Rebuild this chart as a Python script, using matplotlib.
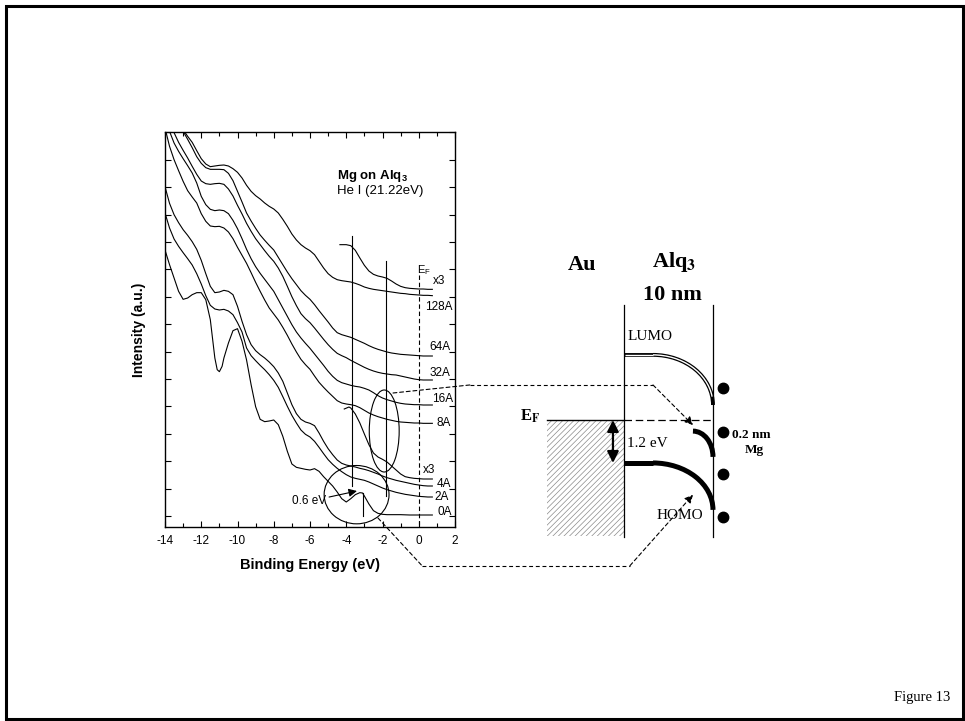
import matplotlib
matplotlib.use('Agg')
import numpy as np
import matplotlib.pyplot as plt
from matplotlib.patches import Ellipse, Rectangle, Arc, ConnectionPatch

plt.rcParams['mathtext.fontset'] = 'custom'
plt.rcParams['mathtext.rm'] = 'Liberation Sans'
plt.rcParams['mathtext.bf'] = 'Liberation Sans:bold'
plt.rcParams['mathtext.it'] = 'Liberation Sans:italic'
plt.rcParams['hatch.linewidth'] = 0.5
plt.rcParams['axes.unicode_minus'] = False

# UPS spectra, Mg on Alq3: binding energy grid (eV) and intensities (a.u.)
energy = [-14.0, -13.75, -13.5, -13.25, -13.0, -12.75, -12.5, -12.25, -12.0, -11.75, -11.5, -11.25,
          -11.0, -10.75, -10.5, -10.25, -10.0, -9.75, -9.5, -9.25, -9.0, -8.75, -8.5, -8.25,
          -8.0, -7.75, -7.5, -7.25, -7.0, -6.75, -6.5, -6.25, -6.0, -5.75, -5.5, -5.25,
          -5.0, -4.75, -4.5, -4.25, -4.0, -3.75, -3.5, -3.25, -3.0, -2.75, -2.5, -2.25,
          -2.0, -1.75, -1.5, -1.25, -1.0, -0.75, -0.5, -0.25, 0.0, 0.25, 0.5, 0.75]

i_128 = [12.30, 11.95, 11.75, 11.57, 11.32, 11.08, 10.92, 10.84, 10.86, 10.88, 10.89, 10.86, 10.78,
         10.67, 10.50, 10.28, 10.10, 9.97, 9.87, 9.75, 9.65, 9.57, 9.45, 9.26, 9.05, 8.82, 8.64,
         8.50, 8.40, 8.32, 8.20, 8.00, 7.80, 7.63, 7.52, 7.45, 7.42, 7.40, 7.38, 7.34, 7.29, 7.23,
         7.19, 7.16, 7.14, 7.12, 7.10, 7.08, 7.06, 7.04, 7.03, 7.01, 7.00, 6.99, 6.98, 6.98, 6.97]
i_64 = [12.15, 11.90, 11.66, 11.41, 11.14, 10.94, 10.81, 10.76, 10.76, 10.76, 10.75, 10.64, 10.42,
        10.10, 9.78, 9.45, 9.21, 8.99, 8.79, 8.63, 8.48, 8.34, 8.12, 7.90, 7.68, 7.48, 7.30, 7.12,
        6.98, 6.86, 6.70, 6.52, 6.35, 6.18, 6.00, 5.86, 5.80, 5.76, 5.72, 5.66, 5.60, 5.54, 5.47,
        5.41, 5.36, 5.32, 5.28, 5.25, 5.23, 5.21, 5.20, 5.19, 5.18, 5.17, 5.16, 5.16, 5.16]
i_32 = [12.20, 11.86, 11.57, 11.33, 11.10, 10.85, 10.61, 10.41, 10.33, 10.31, 10.33, 10.34, 10.31,
        10.17, 9.96, 9.68, 9.42, 9.14, 8.90, 8.68, 8.50, 8.32, 8.15, 8.00, 7.80, 7.55, 7.25, 6.94,
        6.67, 6.43, 6.28, 6.16, 6.00, 5.83, 5.66, 5.50, 5.36, 5.24, 5.17, 5.11, 5.03, 4.96, 4.89,
        4.82, 4.76, 4.71, 4.67, 4.64, 4.62, 4.60, 4.59, 4.56, 4.53, 4.50, 4.47, 4.45, 4.44, 4.44, 4.44]
i_16 = [12.20, 11.90, 11.55, 11.30, 11.08, 10.87, 10.65, 10.35, 9.95, 9.70, 9.56, 9.52, 9.54,
        9.52, 9.43, 9.23, 8.98, 8.68, 8.36, 8.08, 7.84, 7.64, 7.46, 7.28, 7.10, 6.85, 6.60, 6.35,
        6.10, 5.88, 5.70, 5.54, 5.39, 5.22, 5.05, 4.88, 4.70, 4.55, 4.43, 4.36, 4.32, 4.28, 4.25,
        4.23, 4.19, 4.14, 4.06, 3.97, 3.90, 3.85, 3.81, 3.77, 3.74, 3.72, 3.71, 3.70, 3.70, 3.69,
        3.69, 3.69]
i_8 = [12.00, 11.45, 11.05, 10.72, 10.40, 10.12, 9.93, 9.75, 9.43, 9.20, 9.06, 9.04, 9.05,
       9.00, 8.88, 8.68, 8.42, 8.18, 7.94, 7.66, 7.37, 7.10, 6.84, 6.60, 6.42, 6.24, 6.02, 5.78,
       5.52, 5.28, 5.06, 4.90, 4.76, 4.56, 4.37, 4.22, 4.08, 3.95, 3.82, 3.75, 3.72, 3.70, 3.67,
       3.61, 3.53, 3.45, 3.39, 3.34, 3.30, 3.26, 3.23, 3.20, 3.18, 3.17, 3.16, 3.15, 3.15, 3.14,
       3.14, 3.14]
i_4 = [10.24, 9.74, 9.40, 9.16, 8.95, 8.78, 8.59, 8.36, 8.03, 7.63, 7.25, 7.06, 7.08,
       7.13, 7.10, 7.00, 6.65, 6.20, 5.80, 5.50, 5.32, 5.20, 5.10, 4.98, 4.84, 4.65, 4.40, 4.05,
       3.70, 3.43, 3.26, 3.18, 3.14, 3.07, 2.85, 2.60, 2.38, 2.20, 2.04, 1.94, 1.89, 1.86, 1.83,
       1.79, 1.76, 1.72, 1.67, 1.62, 1.56, 1.51, 1.47, 1.43, 1.40, 1.37, 1.34, 1.31, 1.29, 1.27,
       1.26, 1.26]
i_2 = [9.45, 9.00, 8.67, 8.45, 8.26, 8.08, 7.89, 7.63, 7.32, 6.97, 6.68, 6.57, 6.54,
       6.56, 6.51, 6.40, 6.16, 5.88, 5.40, 5.17, 5.02, 4.88, 4.75, 4.60, 4.43, 4.22, 3.94, 3.65,
       3.38, 3.15, 2.94, 2.81, 2.73, 2.60, 2.42, 2.23, 2.05, 1.91, 1.79, 1.69, 1.60, 1.53, 1.49,
       1.46, 1.43, 1.38, 1.32, 1.26, 1.20, 1.15, 1.11, 1.07, 1.04, 1.01, 0.99, 0.97, 0.95, 0.94,
       0.93, 0.93]

e_0 = [-14.0, -13.75, -13.5, -13.25, -13.0, -12.75, -12.5, -12.25, -12.0, -11.75, -11.5, -11.25,
       -11.12, -11.0, -10.85, -10.75, -10.5, -10.25, -10.0, -9.75, -9.5, -9.25, -9.0, -8.75,
       -8.5, -8.25, -8.0, -7.75, -7.5, -7.25, -7.0, -6.75, -6.5, -6.25, -6.0, -5.75, -5.5,
       -5.25, -5.0, -4.75, -4.5, -4.25, -4.0, -3.75, -3.5, -3.25, -3.1, -3.0, -2.75, -2.5,
       -2.25, -2.0, -1.75, -1.5, -1.0, -0.5, 0.0, 0.5, 0.75]
i_0 = [8.34, 7.90, 7.50, 7.10, 6.86, 6.90, 7.00, 7.06, 7.06, 6.85, 6.25, 5.10, 4.75, 4.69, 4.85,
       5.10, 5.55, 5.92, 5.98, 5.60, 5.04, 4.30, 3.64, 3.26, 3.19, 3.21, 3.24, 3.10, 2.75, 2.30,
       1.92, 1.82, 1.79, 1.76, 1.74, 1.78, 1.70, 1.54, 1.40, 1.26, 1.08, 0.88, 0.78, 0.88, 1.00,
       1.06, 1.05, 0.96, 0.72, 0.52, 0.44, 0.41, 0.40, 0.40, 0.40, 0.39, 0.39, 0.39, 0.39]

# x3 magnified traces near E_F
e_128x3 = [-4.35, -4.25, -4.0, -3.75, -3.5, -3.25, -3.0, -2.75, -2.5, -2.25, -2.0, -1.75, -1.5,
           -1.25, -1.0, -0.75, -0.5, -0.25, 0.0, 0.25, 0.5, 0.75]
i_128x3 = [8.50, 8.50, 8.50, 8.47, 8.33, 8.10, 7.88, 7.71, 7.61, 7.56, 7.53, 7.49, 7.41, 7.32,
           7.25, 7.21, 7.19, 7.18, 7.17, 7.17, 7.16, 7.16]
e_4x3 = [-4.11, -3.85, -3.75, -3.5, -3.25, -3.0, -2.75, -2.5, -2.25, -2.0, -1.75, -1.5, -1.25,
         -1.0, -0.75, -0.5, -0.25, 0.0, 0.25, 0.5, 0.75]
i_4x3 = [3.57, 3.63, 3.60, 3.42, 3.15, 2.82, 2.50, 2.25, 2.13, 2.06, 1.98, 1.86, 1.74, 1.62,
         1.54, 1.51, 1.49, 1.48, 1.47, 1.47, 1.47]

curves = [(energy[-len(i_128):], i_128), (energy[-len(i_64):], i_64), (energy[-len(i_32):], i_32),
          (energy[-len(i_16):], i_16), (energy[-len(i_8):], i_8), (energy[-len(i_4):], i_4),
          (energy[-len(i_2):], i_2), (e_0, i_0), (e_128x3, i_128x3), (e_4x3, i_4x3)]
curve_labels = ['x3', '128A', '64A', '32A', '16A', '8A', 'x3', '4A', '2A', '0A']
label_pos = [(0.80, 7.41), (0.34, 6.64), (0.61, 5.42), (0.61, 4.64), (0.71, 3.87),
             (0.98, 3.14), (0.23, 1.74), (0.98, 1.32), (0.89, 0.92), (1.04, 0.48)]

# band diagram values (position in nm, energy in eV vs E_F)
alq3_thick = 10.0
flat_len = 3.26
au_width = 8.65
homo_start, homo_end = -1.2, -2.51
lumo_start, lumo_end = 1.82, 0.42
gap_top, gap_bottom = -0.31, -1.03
gap_x = 7.75
mg_dots = [0.89, -0.34, -1.51, -2.71]

fig = plt.figure(figsize=(9.65, 7.21), dpi=100)
fig.patches.append(Rectangle((5.5 / 965, 2 / 721), 957.5 / 965, 713.5 / 721, transform=fig.transFigure,
                             fill=False, lw=2.2, color='black'))
fig.text(950 / 965, 1 - 698 / 721, 'Figure 13', ha='right', va='center',
         family='Liberation Serif', fontsize=10.5)

# ---- spectra panel ----
ax = fig.add_axes([165 / 965, 1 - 527 / 721, 290 / 965, 395 / 721])
for (e, i) in curves:
    ax.plot(e, i, color='black', lw=0.8, solid_joinstyle='round')
for lab, (x, y) in zip(curve_labels, label_pos):
    ax.text(x, y, lab, ha='left', va='center', fontsize=8.5, family='Liberation Sans')

ax.set_xlim(-14, 2)
ax.set_ylim(0.03, 11.88)
ax.set_xticks(np.arange(-14, 3, 2))
ax.set_xticks(np.arange(-14, 3, 1), minor=True)
ax.set_yticks(np.arange(0.36, 11.9, 0.822))
ax.set_yticklabels([])
ax.tick_params(direction='in', top=True, right=True, length=4, width=0.8, labelsize=8.5, pad=6)
ax.tick_params(which='minor', direction='in', top=True, length=3, width=0.8)
for lbl in ax.get_xticklabels():
    lbl.set_family('Liberation Sans')
for s in ax.spines.values():
    s.set_linewidth(1.0)
ax.set_xlabel('Binding Energy (eV)', family='Liberation Sans', fontweight='bold', fontsize=10.5, labelpad=8)
ax.set_ylabel('Intensity (a.u.)', family='Liberation Sans', fontweight='bold', fontsize=10, labelpad=8)

ax.text(-4.53, 10.57, 'Mg on Alq$_\\mathbf{3}$', family='Liberation Sans', fontweight='bold', fontsize=9.5, va='center')
ax.text(-4.53, 10.12, 'He I (21.22eV)', family='Liberation Sans', fontsize=9.5, va='center')
ax.text(-0.10, 7.74, 'E$_\\mathrm{F}$', family='Liberation Sans', fontsize=8, va='center')

ax.plot([-3.71, -3.71], [8.75, 1.25], color='black', lw=0.8)
ax.plot([-1.80, -1.80], [8.0, 0.95], color='black', lw=0.8)
ax.plot([-3.10, -3.10], [1.05, 0.35], color='black', lw=0.8)
ax.plot([0, 0], [7.6, 0.03], color='black', lw=0.8, ls=(0, (4, 2.5)))
ax.add_patch(Ellipse((-3.43, 1.0), 3.58, 1.75, fill=False, lw=0.8))
ax.add_patch(Ellipse((-1.905, 2.91), 1.65, 2.46, fill=False, lw=0.8))
ax.annotate('0.6 eV', xy=(-3.41, 1.11), xytext=(-5.1, 0.8), ha='right', va='center',
            fontsize=8.5, family='Liberation Sans',
            arrowprops=dict(arrowstyle='-|>', color='black', lw=0.8, mutation_scale=12, shrinkA=0, shrinkB=0))

# ---- band diagram ----
ax2 = fig.add_axes([380 / 965, 1 - 580 / 721, 420 / 965, 340 / 721])
ax2.set_xlim(-27.42, 19.78)
ax2.set_ylim(-4.47, 5.03)
ax2.axis('off')

ax2.add_patch(Rectangle((-au_width, -3.23), au_width, 3.23, facecolor='white', edgecolor='#8a8a8a',
                        hatch='//////', lw=0))
ax2.plot([0, 0], [3.21, -3.27], color='black', lw=0.9)
ax2.plot([alq3_thick, alq3_thick], [3.21, -3.27], color='black', lw=0.9)
ax2.plot([-au_width, 0], [0, 0], color='black', lw=1.0)
ax2.plot([0, alq3_thick], [0, 0], color='black', lw=0.9, ls=(0, (6, 3)))

# HOMO
ax2.plot([0, flat_len], [homo_start, homo_start], color='black', lw=3.6, solid_capstyle='butt')
ax2.add_patch(Arc((flat_len, homo_end), 2 * (alq3_thick - flat_len), 2 * (homo_start - homo_end),
                  theta1=0, theta2=90, lw=3.6, color='black'))
# LUMO (double line)
ax2.plot([0, flat_len], [lumo_start, lumo_start], color='black', lw=2.8, solid_capstyle='butt')
ax2.add_patch(Arc((flat_len, lumo_end), 2 * (alq3_thick - flat_len), 2 * (lumo_start - lumo_end),
                  theta1=0, theta2=90, lw=2.8, color='black'))
ax2.plot([0.1, flat_len], [lumo_start, lumo_start], color='white', lw=1.0, solid_capstyle='butt')
ax2.add_patch(Arc((flat_len, lumo_end), 2 * (alq3_thick - flat_len), 2 * (lumo_start - lumo_end),
                  theta1=2, theta2=90, lw=1.0, color='white'))
# Mg-induced gap state
ax2.add_patch(Arc((gap_x, gap_bottom), 2 * (alq3_thick - gap_x), 2 * (gap_top - gap_bottom),
                  theta1=0, theta2=90, lw=3.6, color='black'))
ax2.plot([11.12] * len(mg_dots), mg_dots, 'o', color='black', ms=7.5)

ax2.annotate('', xy=(-1.24, homo_start), xytext=(-1.24, 0),
             arrowprops=dict(arrowstyle='<|-|>', color='black', lw=1.6, mutation_scale=17, shrinkA=0, shrinkB=0))

serif = dict(family='Liberation Serif', math_fontfamily='stix')
ax2.text(-4.7, 4.33, 'Au', ha='center', va='center', fontsize=16, fontweight='bold', **serif)
ax2.text(5.67, 4.41, 'Alq$_\\mathbf{3}$', ha='center', va='center', fontsize=16, fontweight='bold', **serif)
ax2.text(5.4, 3.49, '10 nm', ha='center', va='center', fontsize=16, fontweight='bold', **serif)
ax2.text(0.45, 2.32, 'LUMO', ha='left', va='center', fontsize=11, **serif)
ax2.text(6.3, -2.68, 'HOMO', ha='center', va='center', fontsize=11, **serif)
ax2.text(0.34, -0.65, '1.2 eV', ha='left', va='center', fontsize=11, **serif)
ax2.text(14.35, -0.42, '0.2 nm', ha='center', va='center', fontsize=9.5, fontweight='bold', **serif)
ax2.text(14.6, -0.84, 'Mg', ha='center', va='center', fontsize=9.5, fontweight='bold', **serif)
ax2.text(-9.44, 0.1, 'E$_\\mathbf{F}$', ha='right', va='center', fontsize=12, fontweight='bold', **serif)

# dashed links from spectra to diagram
dash = (0, (3.5, 2.5))
fig.add_artist(ConnectionPatch(xyA=(-1.42, 4.05), coordsA=ax.transData, xyB=(-17.3, 0.98),
                               coordsB=ax2.transData, ls=dash, lw=0.8, color='black'))
ax2.plot([-17.3, flat_len], [0.98, 0.98], color='black', lw=0.8, ls=dash)
ax2.annotate('', xy=(7.75, -0.14), xytext=(flat_len, 0.98),
             arrowprops=dict(arrowstyle='-|>', color='black', lw=0.8, ls=dash, mutation_scale=12,
                             shrinkA=0, shrinkB=0))
fig.add_artist(ConnectionPatch(xyA=(-2.25, 0.30), coordsA=ax.transData, xyB=(-22.7, -4.07),
                               coordsB=ax2.transData, ls=dash, lw=0.8, color='black'))
ax2.plot([-22.7, 0.67], [-4.07, -4.07], color='black', lw=0.8, ls=dash)
ax2.annotate('', xy=(7.75, -2.09), xytext=(0.67, -4.07),
             arrowprops=dict(arrowstyle='-|>', color='black', lw=0.8, ls=dash, mutation_scale=12,
                             shrinkA=0, shrinkB=0))

fig.savefig('out.png', dpi=100)
